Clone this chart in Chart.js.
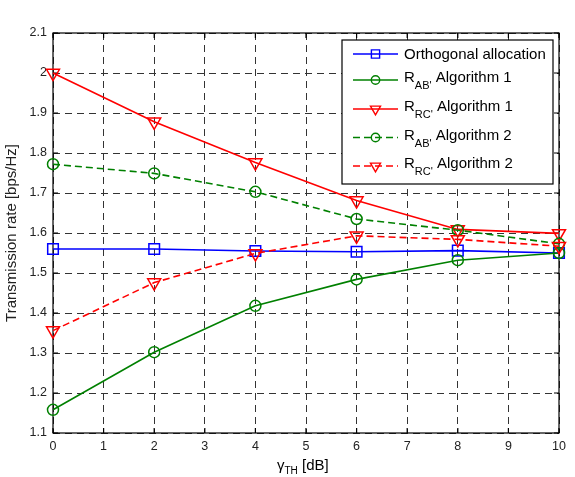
<!DOCTYPE html>
<html>
<head>
<meta charset="utf-8">
<script src="https://cdn.jsdelivr.net/npm/chart.js@4.4.1/dist/chart.umd.min.js"></script>
<style>
  html, body { margin: 0; padding: 0; background: #fff; }
  #wrap { width: 575px; height: 477px; }
</style>
</head>
<body>
<div id="wrap"><canvas id="rateChart" width="575" height="477"></canvas></div>
<script>
// gamma_TH [dB]
const gammaTH = [0, 2, 4, 6, 8, 10];

const orthogonal = [1.560, 1.560, 1.555, 1.553, 1.556, 1.550];
const rabAlg1    = [1.158, 1.302, 1.418, 1.484, 1.532, 1.550];
const rrcAlg1    = [2.000, 1.878, 1.776, 1.681, 1.609, 1.599];
const rabAlg2    = [1.772, 1.749, 1.703, 1.635, 1.607, 1.573];
const rrcAlg2    = [1.356, 1.476, 1.549, 1.593, 1.584, 1.567];

const xTicks = [0, 1, 2, 3, 4, 5, 6, 7, 8, 9, 10];
const yTicks = [1.1, 1.2, 1.3, 1.4, 1.5, 1.6, 1.7, 1.8, 1.9, 2.0, 2.1];
const yTickLabels = ['1.1', '1.2', '1.3', '1.4', '1.5', '1.6', '1.7', '1.8', '1.9', '2', '2.1'];

// legend text: main + subscript + rest
const legendText = [
  ['Orthogonal allocation', '', ''],
  ['R', "AB'", ' Algorithm 1'],
  ['R', "RC'", ' Algorithm 1'],
  ['R', "AB'", ' Algorithm 2'],
  ['R', "RC'", ' Algorithm 2']
];

const FONT = '"Liberation Sans", Arial, Helvetica, sans-serif';
const BLUE = '#0000ff', GREEN = '#008000', RED = '#ff0000';

const styles = [
  { color: BLUE,  dash: [],     point: 'rect',     r: 7.5, rot: 0,   lr: 5.8 },
  { color: GREEN, dash: [],     point: 'circle',   r: 5.5, rot: 0,   lr: 4.2 },
  { color: RED,   dash: [],     point: 'triangle', r: 7.5, rot: 180, lr: 5.8 },
  { color: GREEN, dash: [7, 4], point: 'circle',   r: 5.5, rot: 0,   lr: 4.2 },
  { color: RED,   dash: [7, 4], point: 'triangle', r: 7.5, rot: 180, lr: 5.8 }
];

const seriesValues = [orthogonal, rabAlg1, rrcAlg1, rabAlg2, rrcAlg2];

const datasets = seriesValues.map((vals, i) => ({
  label: legendText[i].join(''),
  data: gammaTH.map((x, k) => ({ x, y: vals[k] })),
  borderColor: styles[i].color,
  borderWidth: 1.6,
  borderDash: styles[i].dash,
  pointStyle: styles[i].point,
  pointRotation: styles[i].rot,
  pointRadius: styles[i].r,
  pointBorderWidth: 1.5,
  pointBorderColor: styles[i].color,
  pointBackgroundColor: 'rgba(0,0,0,0)',
  showLine: true,
  fill: false,
  tension: 0,
  clip: false,
  order: seriesValues.length - i
}));

// box + inward MATLAB-style tick marks
const framePlugin = {
  id: 'frame',
  beforeDatasetsDraw(chart) {
    const { ctx, chartArea: a, scales: { x, y } } = chart;
    ctx.save();
    ctx.strokeStyle = '#000';
    ctx.lineWidth = 1.2;
    ctx.strokeRect(a.left, a.top, a.right - a.left, a.bottom - a.top);
    ctx.beginPath();
    xTicks.forEach(v => {
      const px = x.getPixelForValue(v);
      ctx.moveTo(px, a.bottom); ctx.lineTo(px, a.bottom - 5);
      ctx.moveTo(px, a.top);    ctx.lineTo(px, a.top + 5);
    });
    yTicks.forEach(v => {
      const py = y.getPixelForValue(v);
      ctx.moveTo(a.left, py);  ctx.lineTo(a.left + 5, py);
      ctx.moveTo(a.right, py); ctx.lineTo(a.right - 5, py);
    });
    ctx.stroke();
    ctx.restore();
  }
};

// x title with subscript
const xTitlePlugin = {
  id: 'xTitle',
  afterDraw(chart) {
    const ctx = chart.ctx;
    const a = chart.chartArea;
    ctx.save();
    ctx.fillStyle = '#000';
    ctx.textBaseline = 'alphabetic';
    ctx.textAlign = 'left';
    let x = a.left + 224;
    const base = a.bottom + 37;
    ctx.font = '15px ' + FONT;
    ctx.fillText('\u03b3', x, base);
    x += ctx.measureText('\u03b3').width;
    ctx.font = '10px ' + FONT;
    ctx.fillText('TH', x, base + 4);
    x += ctx.measureText('TH').width;
    ctx.font = '15px ' + FONT;
    ctx.fillText(' [dB]', x, base);
    ctx.restore();
  }
};

// legend box with subscripts
const legendPlugin = {
  id: 'texLegend',
  afterDraw(chart) {
    const ctx = chart.ctx;
    const a = chart.chartArea;
    const l = a.right - 217, t = a.top + 7, w = 211, h = 144;
    const rows = [14, 40, 69, 97.5, 126];
    ctx.save();
    ctx.fillStyle = '#fff';
    ctx.fillRect(l, t, w, h);
    ctx.strokeStyle = '#000';
    ctx.lineWidth = 1.2;
    ctx.strokeRect(l, t, w, h);
    legendText.forEach((parts, i) => {
      const st = styles[i];
      const yy = t + rows[i];
      ctx.save();
      ctx.strokeStyle = st.color;
      ctx.lineWidth = 1.6;
      ctx.setLineDash(st.dash);
      ctx.beginPath();
      ctx.moveTo(l + 11, yy); ctx.lineTo(l + 56, yy);
      ctx.stroke();
      ctx.restore();
      ctx.save();
      ctx.strokeStyle = st.color;
      ctx.fillStyle = 'rgba(0,0,0,0)';
      ctx.lineWidth = 1.4;
      Chart.helpers.drawPoint(ctx, { pointStyle: st.point, rotation: st.rot, radius: st.lr, borderWidth: 1.4 }, l + 33.5, yy);
      ctx.restore();

      ctx.fillStyle = '#000';
      ctx.textAlign = 'left';
      ctx.textBaseline = 'middle';
      let x = l + 62;
      if (!parts[1]) {
        ctx.font = '15px ' + FONT;
        ctx.fillText(parts[0], x, yy + 1);
      } else {
        ctx.font = '15px ' + FONT;
        ctx.fillText(parts[0], x, yy - 2);
        x += ctx.measureText(parts[0]).width;
        ctx.font = '11px ' + FONT;
        ctx.fillText(parts[1], x, yy + 6);
        x += ctx.measureText(parts[1]).width;
        ctx.font = '15px ' + FONT;
        ctx.fillText(parts[2], x, yy - 2);
      }
    });
    ctx.restore();
  }
};

new Chart(document.getElementById('rateChart'), {
  type: 'line',
  data: { datasets },
  options: {
    responsive: false,
    animation: false,
    layout: { padding: { top: 33, right: 16, left: 0, bottom: 0 } },
    plugins: { legend: { display: false }, tooltip: { enabled: false } },
    elements: { line: { borderCapStyle: 'butt' } },
    scales: {
      x: {
        type: 'linear',
        min: 0, max: 10,
        afterFit: s => { s.height = 44; },
        afterBuildTicks: s => { s.ticks = xTicks.map(v => ({ value: v })); },
        ticks: { color: '#222', padding: 6, font: { family: FONT, size: 12.5 }, callback: v => String(v) },
        grid: { color: '#333', lineWidth: 1, drawTicks: false },
        border: { display: false, dash: [7, 5] }
      },
      y: {
        type: 'linear',
        min: 1.1, max: 2.1,
        afterFit: s => { s.width = 53; },
        afterBuildTicks: s => { s.ticks = yTicks.map(v => ({ value: v })); },
        ticks: {
          color: '#222', padding: 6, font: { family: FONT, size: 12.5 },
          callback: (v, idx) => yTickLabels[idx]
        },
        grid: { color: '#333', lineWidth: 1, drawTicks: false },
        border: { display: false, dash: [7, 5] },
        title: {
          display: true,
          text: 'Transmission rate [bps/Hz]',
          color: '#222',
          font: { family: FONT, size: 15 },
          padding: { top: 3, bottom: 0 }
        }
      }
    }
  },
  plugins: [framePlugin, xTitlePlugin, legendPlugin]
});
</script>
</body>
</html>
